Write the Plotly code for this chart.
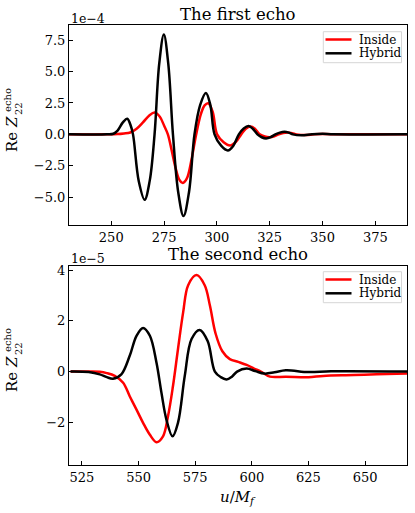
import plotly.graph_objects as go
from plotly.subplots import make_subplots

# ---- data (first echo, units of 1e-4) ----
u1_inside = [230, 248, 253, 256, 259, 262, 265, 268, 270.5, 273, 275, 276.8, 278.5, 280.5,
             282.2, 283.9, 285.8, 288, 290.2, 292.5, 294.2, 295.9, 298, 300.1, 303.2, 306.3,
             309, 311.5, 313.7, 315.9, 318, 320.3, 322.7, 325, 327.2, 329.3, 331.4, 333.5,
             335.6, 337.7, 342, 346, 350, 360, 390]
z1_inside = [0, 0, 0.02, 0.07, 0.15, 0.45, 0.95, 1.5, 1.73, 1.4, 0.7, 0, -1.2, -2.7,
             -3.6, -3.86, -3.5, -2.0, 0, 1.65, 2.3, 2.47, 1.8, 0, -0.62, -0.88,
             -0.6, 0, 0.45, 0.62, 0.45, 0, -0.17, -0.22, -0.15, 0, 0.11, 0.15,
             0.1, 0, -0.06, 0, 0.02, 0, 0]

u1_hybrid = [230, 248, 251, 253, 255.5, 257.6, 259, 260.3, 263, 265.8, 268.2, 270.5, 272.7,
             274.9, 277, 279.2, 281.7, 284.2, 286.8, 289.4, 292.1, 294.8, 296.9, 298.9, 302,
             305.2, 307.8, 310.4, 312.7, 315, 317, 319.2, 321.2, 323.3, 325.5, 327.7, 329.8,
             332, 334, 336, 340, 345, 350, 355, 390]
z1_hybrid = [0, 0, 0.05, 0.3, 0.95, 1.25, 0.8, 0, -3.7, -5.2, -3.7, 0, 5.6,
             7.95, 5.6, 0, -4.6, -6.5, -4.6, 0, 2.35, 3.3, 2.35, 0, -0.9,
             -1.28, -0.9, 0, 0.47, 0.66, 0.45, 0, -0.23, -0.32, -0.22, 0, 0.14,
             0.2, 0.14, 0, -0.08, 0, 0.04, 0, 0]

# ---- data (second echo, units of 1e-5) ----
u2_inside = [520, 528, 532.9, 536, 539.5, 543.2, 546.1, 549.1, 552, 555, 557.9, 560.8, 563,
             565.2, 567.4, 569.7, 571.9, 575.6, 579.2, 581.5, 584, 587, 590.3, 594, 597.7,
             601, 604, 608, 615, 625, 631.5, 645, 655, 670]
z2_inside = [0, 0, -0.01, -0.06, -0.17, -0.44, -0.97, -1.5, -2.02, -2.49, -2.78, -2.55, -1.76,
             -0.57, 0.88, 2.34, 3.4, 3.8, 3.4, 2.6, 1.5, 0.8, 0.49, 0.38, 0.26,
             0.12, 0, -0.2, -0.2, -0.22, -0.17, -0.14, -0.11, -0.07]

u2_hybrid = [520, 528, 532.9, 536, 538.7, 542.4, 546.1, 549.1, 552, 555, 557.9, 560.1, 562.3,
             565, 567.4, 570.4, 573.4, 577, 580.5, 583.7, 586.3, 588.8, 591.2, 593.5, 597.7,
             601.5, 605.5, 610, 615, 625, 635, 670]
z2_hybrid = [0, -0.02, -0.11, -0.22, -0.28, -0.11, 0.62, 1.41, 1.72, 1.41, 0.36, -0.83, -1.89,
             -2.55, -2.02, -0.17, 1.28, 1.64, 1.2, 0, -0.22, -0.31, -0.2, 0, 0.12,
             0.02, -0.08, -0.03, 0.05, -0.02, 0.01, 0]

series_names = ["Inside", "Hybrid"]

RED = "#ff0000"
BLACK = "#000000"
SERIF = "DejaVu Serif"

W, H = 415, 513
ML, MR, MT, MB = 69, 8, 25, 48
PH = H - MT - MB
PW = W - ML - MR


def py(p):
    """pixel row -> paper y"""
    return (H - MB - p) / PH


def px(p):
    """pixel column -> paper x"""
    return (p - ML) / PW


fig = make_subplots(rows=2, cols=1, vertical_spacing=0.09)
fig.update_layout(yaxis=dict(domain=[py(225), 1.0]), yaxis2=dict(domain=[0.0, py(265.7)]))

for row, (u_in, z_in, u_hy, z_hy) in enumerate(
        [(u1_inside, z1_inside, u1_hybrid, z1_hybrid),
         (u2_inside, z2_inside, u2_hybrid, z2_hybrid)], start=1):
    fig.add_trace(go.Scatter(x=u_in, y=z_in, name=series_names[0], mode="lines", line_shape="spline",
                             line=dict(color=RED, width=2.5), showlegend=False), row=row, col=1)
    fig.add_trace(go.Scatter(x=u_hy, y=z_hy, name=series_names[1], mode="lines", line_shape="spline",
                             line=dict(color=BLACK, width=2.5), showlegend=False), row=row, col=1)

axis_style = dict(showgrid=False, zeroline=False, showline=True, linecolor="black", linewidth=1,
                  mirror=True, ticks="inside", ticklen=4, tickwidth=1, tickcolor="black",
                  tickfont=dict(family=SERIF, size=13, color="black"))
fig.update_xaxes(**axis_style)
fig.update_yaxes(**axis_style)
fig.update_xaxes(range=[230, 390], tickvals=[250, 275, 300, 325, 350, 375], row=1, col=1)
fig.update_xaxes(range=[519.3, 668.5], tickvals=[525, 550, 575, 600, 625, 650], row=2, col=1)
fig.update_yaxes(range=[-7.21, 8.7], tickvals=[-5, -2.5, 0, 2.5, 5, 7.5],
                 ticktext=["\u22125.0", "\u22122.5", "0.0", "2.5", "5.0", "7.5"], row=1, col=1)
fig.update_yaxes(range=[-3.68, 4.17], tickvals=[-2, 0, 2, 4],
                 ticktext=["\u22122", "0", "2", "4"], row=2, col=1)

fig.update_layout(
    width=W, height=H,
    margin=dict(l=ML, r=MR, t=MT, b=MB),
    paper_bgcolor="white", plot_bgcolor="white",
    font=dict(family=SERIF, color="black"),
)

ann = []
shapes = []
# titles
for text, p in [("The first echo", 14), ("The second echo", 254.5)]:
    ann.append(dict(text=text, xref="paper", yref="paper", x=0.5, y=py(p), xanchor="center",
                    yanchor="middle", showarrow=False, font=dict(size=16.5)))
# offset texts
for text, p in [("1e\u22124", 18), ("1e\u22125", 258)]:
    ann.append(dict(text=text, xref="paper", yref="paper", x=0, y=py(p), xanchor="left",
                    yanchor="middle", showarrow=False, font=dict(size=12.5)))
# y labels (Re Z with stacked sub/superscript)
for c in [134, 374]:
    ann.append(dict(text="Re <i>Z</i>", xref="paper", yref="paper", x=0, xshift=12 - ML,
                    y=py(c), xanchor="center", yanchor="middle", textangle=-90,
                    showarrow=False, font=dict(size=15)))
    ann.append(dict(text="22", xref="paper", yref="paper", x=0, xshift=18 - ML,
                    y=py(c - 25), xanchor="center", yanchor="middle", textangle=-90,
                    showarrow=False, font=dict(size=10)))
    ann.append(dict(text="echo", xref="paper", yref="paper", x=0, xshift=7.5 - ML,
                    y=py(c - 33.5), xanchor="center", yanchor="middle", textangle=-90,
                    showarrow=False, font=dict(size=10)))
# x label
ann.append(dict(text="<i>u</i>/<i>M<sub>f</sub></i>", xref="paper", yref="paper", x=0.5, y=py(486),
                xanchor="center", yanchor="top", showarrow=False, font=dict(size=15)))

# legends (matplotlib-style compact boxes, upper right of each panel)
for top in [31.7, 271.7]:
    shapes.append(dict(type="rect", xref="paper", yref="paper", x0=px(323.3), x1=px(401.5),
                       y0=py(top + 31), y1=py(top), line=dict(color="#d6d6d6", width=1),
                       fillcolor="white", layer="above"))
    for k, (name, col) in enumerate(zip(series_names, [RED, BLACK])):
        yy = top + 7.8 + 13.8 * k
        shapes.append(dict(type="line", xref="paper", yref="paper", x0=px(325.5), x1=px(351.5),
                           y0=py(yy), y1=py(yy), line=dict(color=col, width=2.5), layer="above"))
        ann.append(dict(text=name, xref="paper", yref="paper", x=px(356.5), y=py(yy),
                        xanchor="left", yanchor="middle", showarrow=False,
                        font=dict(size=12)))

fig.update_layout(annotations=ann, shapes=shapes)

fig.write_html("out.html", config={"displayModeBar": False},
               post_script="document.body.style.margin='0px';")
